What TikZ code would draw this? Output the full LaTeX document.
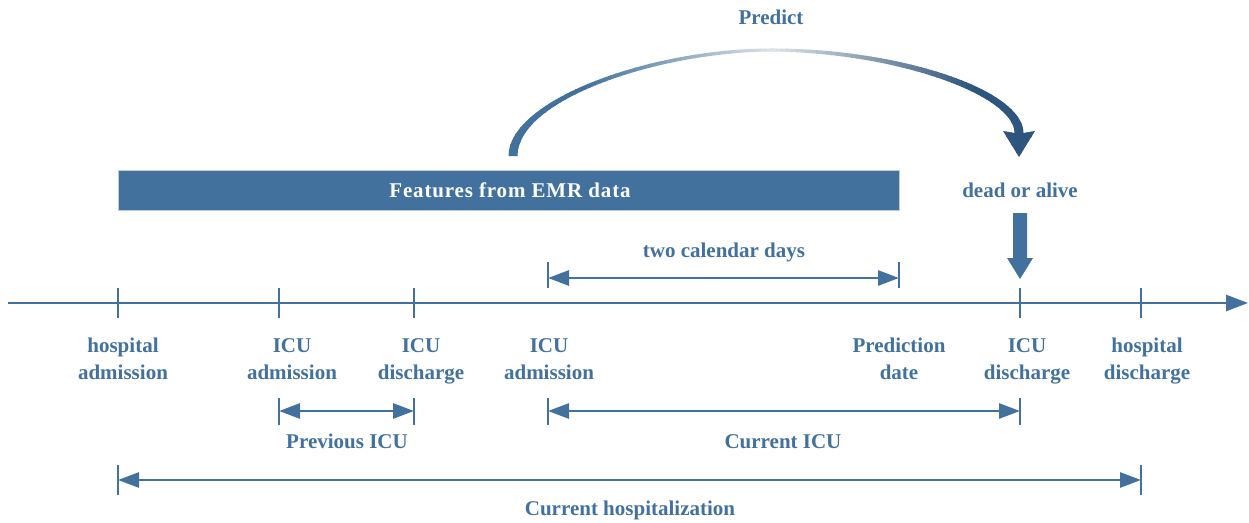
\documentclass[tikz,border=0pt]{standalone}
\usepackage{fontspec}
\setmainfont{Liberation Serif}
\usetikzlibrary{arrows.meta}
\definecolor{steel}{RGB}{65,113,156}
\definecolor{steeldark}{RGB}{45,85,125}
\definecolor{lgray}{RGB}{222,226,230}
\begin{document}
\begin{tikzpicture}[x=1pt,y=-1pt,
  lbl/.style={text=steel,font=\fontsize{21}{27}\selectfont\bfseries,align=center,inner sep=0pt},
  axis/.style={draw=steel,line width=2.8pt},
  tick/.style={draw=steel,line width=2.8pt},
  tip/.style={Triangle[length=21pt,width=15pt]},
  span/.style={draw=steel,line width=2.8pt,{Triangle[length=21pt,width=15pt]}-{Triangle[length=21pt,width=15pt]}}
]
\useasboundingbox (0,0) rectangle (1249,522);
% timeline
\coordinate (t0) at (8,303);
\coordinate (tend) at (1248,303);
\draw[axis,-{Triangle[length=22pt,width=16pt]}] (t0) -- (tend);
\foreach \n/\x in {ha/118,ia1/279,id1/414,ia2/548,pd/899,id2/1020,hd/1141}{
  \coordinate (\n) at (\x,303);
}
\foreach \n in {ha,ia1,id1,id2,hd}{
  \draw[tick] ([yshift=-15pt]\n) -- ([yshift=15pt]\n);
}
\foreach \n in {ia2,pd}{
  \draw[tick] ([yshift=41pt]\n) -- ([yshift=15pt]\n);
}
% labels under timeline
\node[lbl,anchor=north] (lha) at (123,338) {hospital\\admission};
\node[lbl,anchor=north] (lia1) at (292,338) {ICU\\admission};
\node[lbl,anchor=north] (lid1) at (421,338) {ICU\\discharge};
\node[lbl,anchor=north] (lia2) at (549,338) {ICU\\admission};
\node[lbl,anchor=north] (lpd) at (899,338) {Prediction\\date};
\node[lbl,anchor=north] (lid2) at (1027,338) {ICU\\discharge};
\node[lbl,anchor=north] (lhd) at (1147,338) {hospital\\discharge};
% two calendar days
\coordinate (tcA) at (548,278);
\coordinate (tcB) at (899,278);
\draw[span] (tcA) -- (tcB);
\node[lbl,anchor=base] (ltc) at (724,257) {two calendar days};
% previous ICU
\coordinate (pA) at (279,411);
\coordinate (pB) at (414,411);
\draw[tick] (279,398) -- (279,425);
\draw[tick] (414,398) -- (414,425);
\draw[span] (pA) -- (pB);
\node[lbl,anchor=base] (lprev) at (347,448) {Previous ICU};
% current ICU
\coordinate (cA) at (548,411);
\coordinate (cB) at (1020,411);
\draw[tick] (548,398) -- (548,425);
\draw[tick] (1020,398) -- (1020,425);
\draw[span] (cA) -- (cB);
\node[lbl,anchor=base] (lcur) at (783,448) {Current ICU};
% current hospitalization
\coordinate (hA) at (118,480);
\coordinate (hB) at (1141,480);
\draw[tick] (118,465) -- (118,495);
\draw[tick] (1141,465) -- (1141,495);
\draw[span] (hA) -- (hB);
\node[lbl,anchor=base] (lhosp) at (630,515) {Current hospitalization};
% features bar
\node[draw=steel!35,line width=1.2pt,fill=steel,minimum width=781pt,minimum height=40pt,inner sep=0pt,anchor=north west] (bar) at (118,170) {};
\node[lbl,text=white,anchor=base,font=\fontsize{21}{27}\selectfont\bfseries\addfontfeature{LetterSpace=4}] (feat) at (510,197) {Features from EMR data};
% predict arc with gradient
\begin{scope}
\clip (508.5,156) .. controls (508.5,100) and (650,49) .. (769,48.5)
  .. controls (900,48) and (1023.5,90) .. (1023.5,133)
  -- (1035,131) -- (1019,157) -- (1003,131) -- (1014.5,133)
  .. controls (1014.5,95) and (895,52) .. (769,51.5)
  .. controls (655,53) and (517.5,100) .. (517.5,156) -- cycle;
\foreach \i in {0,...,54}{
  \pgfmathsetmacro\xa{500+\i*5}
  \pgfmathsetmacro\p{min(100,max(0,(771-\xa)/230*100*1.2))}
  \fill[steel!\p!lgray] (\xa,40) rectangle ({\xa+5.5},160);
}
\foreach \i in {0,...,55}{
  \pgfmathsetmacro\xa{771+\i*5}
  \pgfmathsetmacro\p{min(100,max(0,(\xa-771)/200*100))}
  \fill[steeldark!\p!lgray] (\xa,40) rectangle ({\xa+5.5},160);
}
\end{scope}
\node[lbl,anchor=base] (pred) at (771,24) {Predict};
\node[lbl,anchor=base] (doa) at (1020,197) {dead or alive};
% down block arrow
\fill[steel] (1013,213) -- (1027,213) -- (1027,258) -- (1033,258) -- (1020,279) -- (1007,258) -- (1013,258) -- cycle;
\end{tikzpicture}
\end{document}
